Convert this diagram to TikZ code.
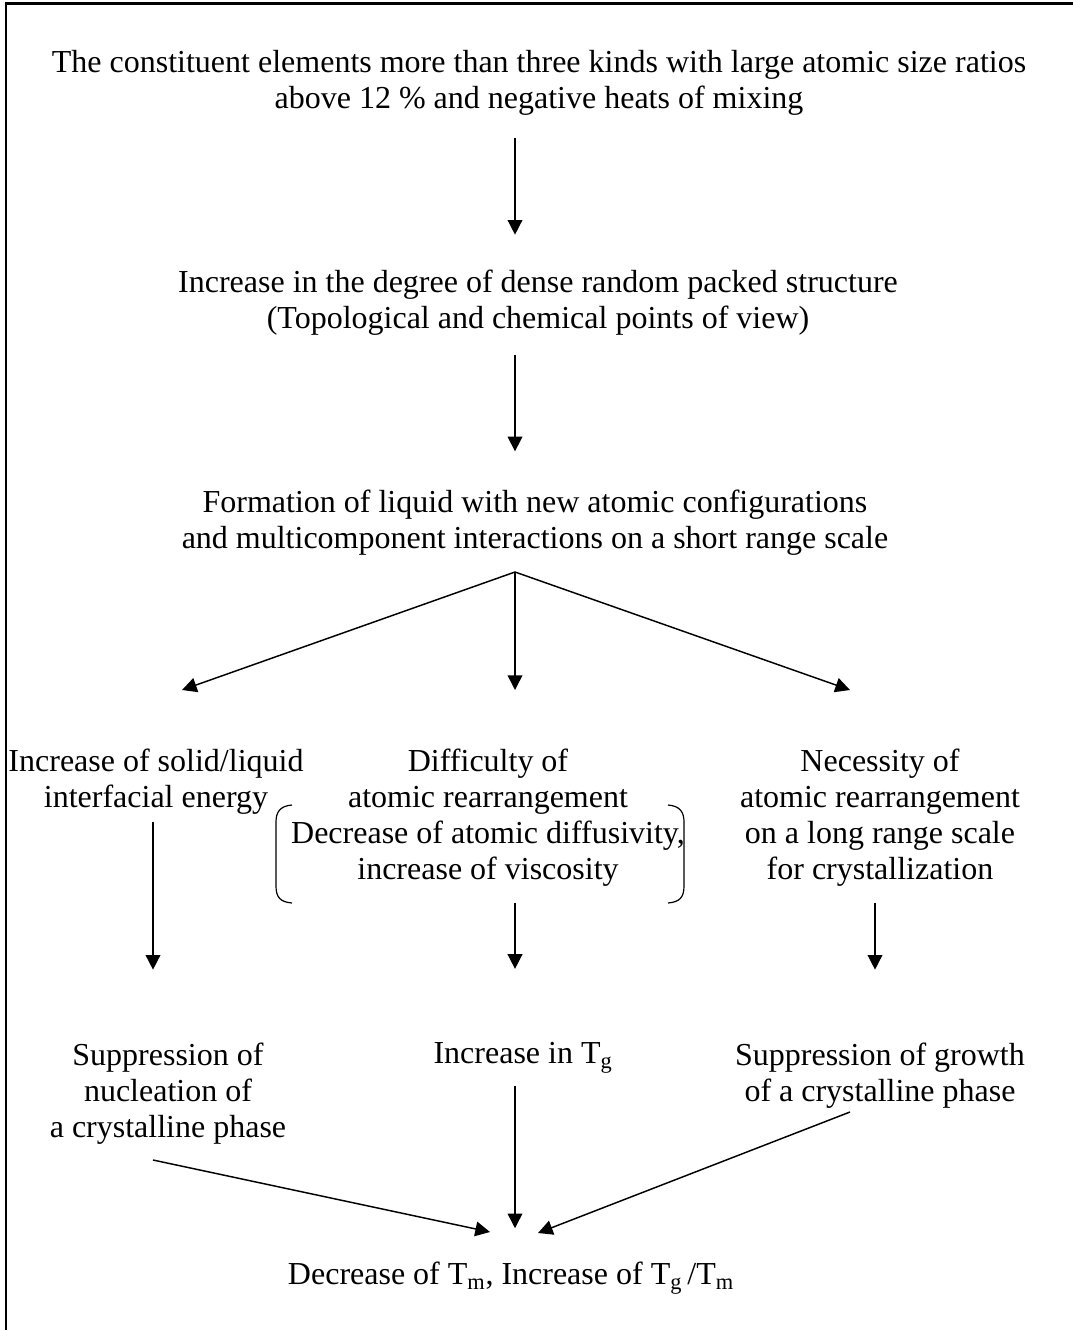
\documentclass[tikz,border=0pt]{standalone}
\usepackage{fontspec}
\setmainfont{Liberation Serif}
\usetikzlibrary{arrows.meta,calc}
\begin{document}
\begin{tikzpicture}[x=0.75pt,y=-0.75pt,
  txt/.style={inner sep=0pt, align=center, font=\fontsize{24}{27}\selectfont},
  arr/.style={line width=1.1pt, -{Triangle[length=11pt,width=11pt]}},
  ln/.style={line width=1.1pt},
  brk/.style={line width=0.9pt},
  frame/.style={line width=1.6pt}]
\useasboundingbox (0,0) rectangle (1073,1330);
\draw[frame] (6,1330) -- (6,3.5) -- (1073,3.5);

\node[txt] (n1) at (539,83) {The constituent elements more than three kinds with large atomic size ratios\\above 12 \% and negative heats of mixing};
\node[txt] (n2) at (538,303) {Increase in the degree of dense random packed structure\\(Topological and chemical points of view)};
\node[txt] (n3) at (535,523) {Formation of liquid with new atomic configurations\\and multicomponent interactions on a short range scale};
\node[txt] (l1) at (156,782) {Increase of solid/liquid\\interfacial energy};
\node[txt] (m1) at (488,818) {Difficulty of\\atomic rearrangement\\Decrease of atomic diffusivity,\\increase of viscosity};
\node[txt] (r1) at (880,818) {Necessity of\\atomic rearrangement\\on a long range scale\\for crystallization};
\node[txt] (l2) at (168,1094) {Suppression of\\nucleation of\\a crystalline phase};
\node[txt] (m2) at (523,1058) {Increase in T\textsubscript{g}};
\node[txt] (r2) at (880,1076) {Suppression of growth\\of a crystalline phase};
\node[txt] (f) at (511,1278) {Decrease of T\textsubscript{m}, Increase of T\textsubscript{g}\,/T\textsubscript{m}};

% column lines and free ends
\coordinate (b) at (515,572);
\coordinate (cr) at (875,0);
\coordinate (tl) at (182,690);
\coordinate (tm) at (515,690);
\coordinate (tr) at (850,690);
\coordinate (ls) at (153,1160);
\coordinate (lt) at (490,1232);
\coordinate (rs) at (850,1112);
\coordinate (rt) at (538,1233);

% brackets
\draw[brk] (292,805) .. controls (280,806) and (276,812) .. (276,822) -- (276,886) .. controls (276,897) and (280,902) .. (292,903);
\draw[brk] (668,805) .. controls (680,806) and (684,812) .. (684,822) -- (684,886) .. controls (684,897) and (680,902) .. (668,903);

\draw[arr, shorten <=17pt, shorten >=26.5pt] (n1.south -| b) -- (n2.north -| b);
\draw[arr, shorten <=14.5pt, shorten >=29pt] (n2.south -| b) -- (n3.north -| b);
\draw[ln, shorten <=12pt] (n3.south -| b) -- (b);
\draw[arr] (b) -- (tl);
\draw[arr] (b) -- (tm);
\draw[arr] (b) -- (tr);

\draw[arr, shorten <=5pt, shorten >=55pt] (l1.south -| ls) -- (l2.north -| ls);
\draw[arr, shorten <=12pt, shorten >=55pt] (m1.south -| b) -- (m2.north -| b);
\draw[arr, shorten <=12pt, shorten >=55pt] (m1.south -| cr) -- (r2.north -| cr);

\draw[arr, shorten <=9pt, shorten >=25pt] (m2.south -| b) -- (f.north -| b);
\draw[arr] (ls) -- (lt);
\draw[arr] (rs) -- (rt);
\end{tikzpicture}
\end{document}
